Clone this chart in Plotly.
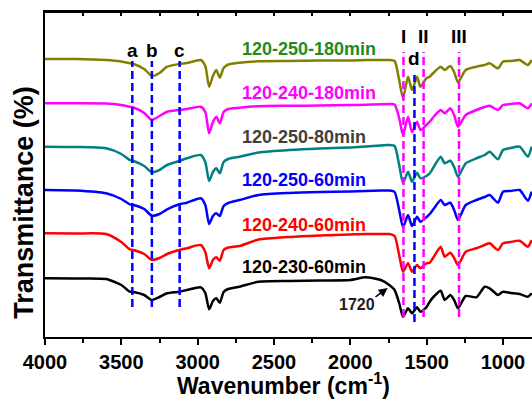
import plotly.graph_objects as go

# Wavenumber grid (cm-1) shared by all spectra
wavenumber = [4000, 3800, 3600, 3500, 3445, 3420, 3350, 3300, 3250, 3200,
              3120, 3070, 2980, 2950, 2925, 2900, 2878, 2855, 2830, 2800,
              2725, 2600, 2400, 2200, 2000, 1900, 1800, 1745, 1710, 1680,
              1655, 1622, 1596, 1563, 1541, 1502, 1480, 1450, 1408, 1382,
              1345, 1320, 1295, 1244, 1174, 1120, 1087, 1033, 1000, 950,
              891, 837, 812]

# Offset transmittance (arbitrary units, stacked)
t_250_180 = [278, 278, 277, 275.5, 273.7, 273, 268, 261, 264, 270.3,
             273, 274, 277, 271, 250.3, 261, 267, 259.3, 269, 272.5,
             274.3, 275.7, 276, 276.5, 276.5, 277, 277, 277, 276, 257,
             238.7, 260.3, 247, 260.3, 250.3, 258.7, 260.3, 265, 270.3, 267,
             271, 265, 254.7, 267, 270.3, 272, 273.7, 268.7, 275.3, 276,
             277, 272, 277]
t_240_180 = [233.7, 233.7, 233.5, 232, 230.3, 229.5, 224, 217, 221, 225.3,
             227, 228, 230.3, 225, 203.7, 215, 220.3, 213.7, 225, 228,
             229.3, 230.8, 231.2, 231.5, 232, 232.2, 232.7, 233, 232.5, 219,
             202, 220.3, 204.7, 215.3, 207, 212, 215.3, 221, 227, 223.7,
             228.7, 222, 210.3, 222, 227, 230, 231.3, 227, 232, 233,
             233.7, 228.7, 233.7]
t_250_80 = [190.3, 190, 188.7, 183, 177, 176, 171, 164.7, 167, 172,
            176, 178.7, 182, 175, 156, 165, 168.7, 163.7, 175, 178,
            180.3, 184.5, 187, 188.5, 189.5, 190.5, 191.5, 192, 191, 172,
            153.7, 165.3, 155.3, 164.3, 158.7, 161, 163.7, 171, 180.3, 173.7,
            176.3, 170, 160.3, 173.7, 178.7, 182, 185.3, 177.7, 187, 189,
            190.3, 180.3, 190.3]
t_250_60 = [147, 146.5, 143.7, 138, 132.7, 132, 128, 121.3, 123, 127.7,
            132.7, 134.3, 138.7, 132, 113, 121, 123.7, 121, 131, 134,
            137, 142, 144, 145, 145.5, 146, 146.5, 146.5, 145, 127,
            109.7, 122, 111, 120.3, 115.3, 119.7, 123, 129, 137, 132,
            134.3, 127, 117, 132, 137, 140, 142, 134.3, 145.3, 146,
            147, 136.3, 145.3]
t_240_60 = [103.7, 103.5, 103, 95, 87.7, 87, 83, 77, 79, 83,
            87, 88.7, 92, 85, 68.7, 77, 79.7, 76.3, 87, 89.5,
            91, 97.5, 100, 101.5, 102.5, 103, 103, 103, 101, 82,
            65.3, 73.7, 65.3, 72, 68.7, 73.7, 74.3, 81, 90.3, 80.3,
            84.3, 79, 72, 85.3, 88.7, 92, 93.7, 87, 93.7, 95,
            96.3, 90.3, 97]
t_230_60 = [58.7, 58.5, 58, 52, 45.3, 45, 42, 37, 40, 43.7,
            45.3, 47, 49.7, 44, 27.7, 36, 38.7, 34.3, 45, 48,
            50.3, 55.3, 56, 56.5, 57, 59.7, 57, 52, 47, 34,
            20.3, 28.7, 23.7, 29.7, 25.3, 29.7, 35.3, 41, 46.3, 37,
            42, 37, 28.7, 41, 39.7, 50.3, 48.7, 42, 45.3, 44,
            43, 40.3, 43.7]

series_names = ["120-250-180min", "120-240-180min", "120-250-80min",
                "120-250-60min", "120-240-60min", "120-230-60min"]
series_values = [t_250_180, t_240_180, t_250_80, t_250_60, t_240_60, t_230_60]
line_colors = ["#808000", "#FF00FF", "#008080", "#0000FF", "#FF0000", "#000000"]
label_colors = ["#1E8C1E", "#FF00FF", "#404040", "#0000FF", "#FF0000", "#000000"]
label_y = [288, 244, 200, 157, 112, 70]
label_x = 2725

# Band markers
blue_bands = [3428, 3300, 3118]
blue_band_labels = ["a", "b", "c"]
d_band = 1580
pink_bands = [1652, 1520, 1288]
pink_band_labels = ["I", "II", "III"]

tick_vals = [4000, 3500, 3000, 2500, 2000, 1500, 1000]
tick_text = ["4000", "3500", "3000", "2500", "2000", "1500", "1000"]

FONT = "Arial, Liberation Sans, sans-serif"

fig = go.Figure()
for name, vals, col in zip(series_names, series_values, line_colors):
    fig.add_trace(go.Scatter(x=wavenumber, y=vals, mode="lines", name=name,
                             line=dict(color=col, width=2.5, shape="spline", smoothing=0.6),
                             showlegend=False, hoverinfo="skip"))
# invisible trace to anchor the top mirror axis
fig.add_trace(go.Scatter(x=[wavenumber[0]], y=[0], xaxis="x2", yaxis="y", mode="markers",
                         marker=dict(opacity=0), showlegend=False, hoverinfo="skip"))

DASH = "8px,4px"
shapes = []
for wn in blue_bands:
    shapes.append(dict(type="line", xref="x", yref="y", x0=wn, x1=wn, y0=30, y1=276,
                       line=dict(color="#0000FF", width=2.5, dash=DASH)))
shapes.append(dict(type="line", xref="x", yref="y", x0=d_band, x1=d_band, y0=15, y1=262,
                   line=dict(color="#0000FF", width=2.5, dash=DASH)))
for wn in pink_bands:
    shapes.append(dict(type="line", xref="x", yref="y", x0=wn, x1=wn, y0=20, y1=285,
                       line=dict(color="#FF00FF", width=2.5, dash=DASH)))
# top frame line
shapes.append(dict(type="line", xref="paper", yref="paper", x0=0, x1=1, y0=1, y1=1,
                   line=dict(color="black", width=2)))

annotations = []
for name, col, yv in zip(series_names, label_colors, label_y):
    annotations.append(dict(x=label_x, y=yv, xref="x", yref="y", text=name, showarrow=False,
                            xanchor="left", yanchor="middle",
                            font=dict(family=FONT, size=18, color=col, weight="bold")))
for wn, lab in zip(blue_bands, blue_band_labels):
    annotations.append(dict(x=wn, y=287, xref="x", yref="y", text=lab, showarrow=False,
                            xanchor="center", yanchor="middle",
                            font=dict(family=FONT, size=19, color="black", weight="bold")))
annotations.append(dict(x=d_band, y=279, xref="x", yref="y", text="d", showarrow=False,
                        xanchor="center", yanchor="middle",
                        font=dict(family=FONT, size=19, color="black", weight="bold")))
for wn, lab in zip(pink_bands, pink_band_labels):
    annotations.append(dict(x=wn, y=301, xref="x", yref="y", text=lab, showarrow=False,
                            xanchor="center", yanchor="middle",
                            font=dict(family=FONT, size=19, color="black", weight="bold")))
# 1720 marker
annotations.append(dict(x=1958, y=33, xref="x", yref="y", text="1720", showarrow=False,
                        xanchor="center", yanchor="middle",
                        font=dict(family=FONT, size=16, color="#202020", weight="bold")))
annotations.append(dict(x=1755, y=49, xref="x", yref="y", ax=1845, ay=39, axref="x", ayref="y",
                        text="", showarrow=True, arrowhead=2, arrowsize=1.2, arrowwidth=1.5,
                        arrowcolor="black"))
# axis titles
annotations.append(dict(x=-0.043, y=0.413, xref="paper", yref="paper",
                        text="Transmittance (%)", showarrow=False, textangle=-90,
                        xanchor="center", yanchor="middle",
                        font=dict(family=FONT, size=27, color="black", weight="bold")))
annotations.append(dict(x=0.489, y=-0.145, xref="paper", yref="paper",
                        text="Wavenumber (cm<sup>-1</sup>)", showarrow=False,
                        xanchor="center", yanchor="middle",
                        font=dict(family=FONT, size=23, color="black", weight="bold")))

fig.update_layout(
    width=532, height=404,
    margin=dict(l=45, r=0, t=12, b=67),
    paper_bgcolor="white", plot_bgcolor="white",
    shapes=shapes, annotations=annotations,
    xaxis=dict(range=[4000, 810], tickvals=tick_vals, ticktext=tick_text,
               ticks="outside", ticklen=6, tickwidth=2, tickcolor="black",
               minor=dict(dtick=250, tick0=4000, ticks="outside", ticklen=4, tickwidth=2,
                          tickcolor="black"),
               showline=True, linewidth=2, linecolor="black", mirror=False,
               showgrid=False, zeroline=False,
               tickfont=dict(family=FONT, size=20, color="black", weight="bold")),
    xaxis2=dict(range=[4000, 810], overlaying="x", side="top", anchor="y", dtick=250, tick0=4000,
                ticks="inside", ticklen=4, tickwidth=2, tickcolor="black",
                showticklabels=False, showline=True, linewidth=2, linecolor="black",
                showgrid=False, zeroline=False),
    yaxis=dict(range=[0, 325], showticklabels=False, ticks="", showgrid=False,
               zeroline=False, showline=True, linewidth=2, linecolor="black", mirror=False),
)

fig.write_html("out.html", config={"displayModeBar": False},
               post_script="document.body.style.margin='0px';")
